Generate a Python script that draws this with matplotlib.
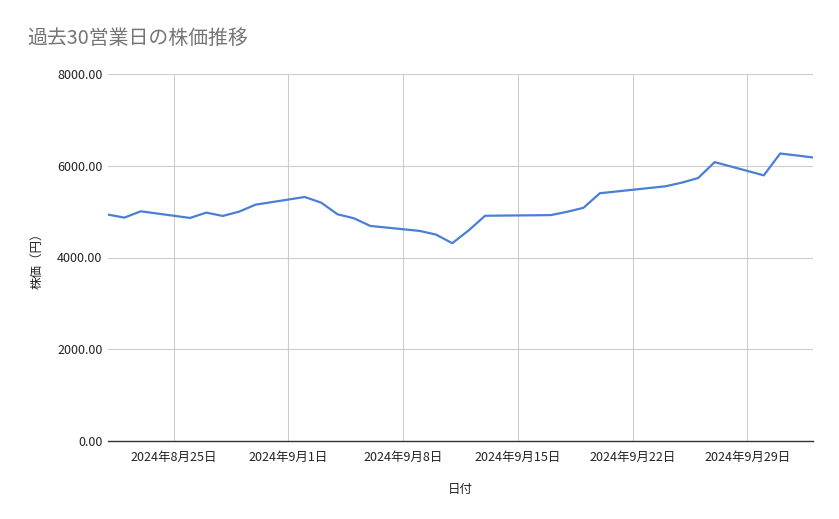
import numpy as np
import matplotlib
matplotlib.use("Agg")
import matplotlib.pyplot as plt
import matplotlib.dates as mdates

plt.rcParams['font.family'] = ['Noto Sans CJK JP', 'DejaVu Sans']

# 30営業日（9/16, 9/23 は祝日）
dates = np.array([
    "2024-08-21", "2024-08-22", "2024-08-23",
    "2024-08-26", "2024-08-27", "2024-08-28", "2024-08-29", "2024-08-30",
    "2024-09-02", "2024-09-03", "2024-09-04", "2024-09-05", "2024-09-06",
    "2024-09-09", "2024-09-10", "2024-09-11", "2024-09-12", "2024-09-13",
    "2024-09-17", "2024-09-18", "2024-09-19", "2024-09-20",
    "2024-09-24", "2024-09-25", "2024-09-26", "2024-09-27",
    "2024-09-30", "2024-10-01", "2024-10-02", "2024-10-03",
], dtype="datetime64[D]")

prices = [
    4935, 4870, 5007,
    4862, 4978, 4906, 5000, 5152,
    5319, 5196, 4942, 4855, 4688,
    4580, 4500, 4312, 4592, 4910,
    4924, 4996, 5083, 5401,
    5552, 5632, 5733, 6079,
    5791, 6267, 6225, 6180,
]

tick_dates = np.array(["2024-08-25", "2024-09-01", "2024-09-08",
                       "2024-09-15", "2024-09-22", "2024-09-29"], dtype="datetime64[D]")
tick_labels = ["2024年8月25日", "2024年9月1日", "2024年9月8日",
               "2024年9月15日", "2024年9月22日", "2024年9月29日"]
y_ticks = [0, 2000, 4000, 6000, 8000]

fig = plt.figure(figsize=(8.39, 5.19), dpi=100)
ax = fig.add_axes([108/839, 1-441/519, (813-108)/839, (441-74)/519])

x = mdates.date2num(dates.astype("datetime64[s]").astype(object))
xt = mdates.date2num(tick_dates.astype("datetime64[s]").astype(object))

ax.plot(x, prices, color="#4a7fd6", linewidth=1.6, solid_joinstyle="round")

ax.set_xlim(x[0], x[-1])
ax.set_ylim(0, 8000)
ax.set_yticks(y_ticks)
ax.set_yticklabels(["%.2f" % v for v in y_ticks])
ax.set_xticks(xt)
ax.set_xticklabels(tick_labels)

ax.grid(True, color="#cccccc", linewidth=0.8)
ax.set_axisbelow(True)
for s in ["top", "right", "left"]:
    ax.spines[s].set_visible(False)
ax.spines["bottom"].set_color("#333333")
ax.spines["bottom"].set_linewidth(1.0)
ax.tick_params(length=0, labelsize=9, colors="#222222")
ax.tick_params(axis="y", pad=4)
ax.tick_params(axis="x", pad=7)

ax.set_xlabel("日付", fontsize=9, color="#222222", labelpad=14)
ax.set_ylabel("株価（円）", fontsize=9, color="#222222", labelpad=10)

fig.text(27/839, 1-38/519, "過去30営業日の株価推移", fontsize=14.3, color="#757575",
         va="center", ha="left")

fig.savefig("out.png", dpi=100)
